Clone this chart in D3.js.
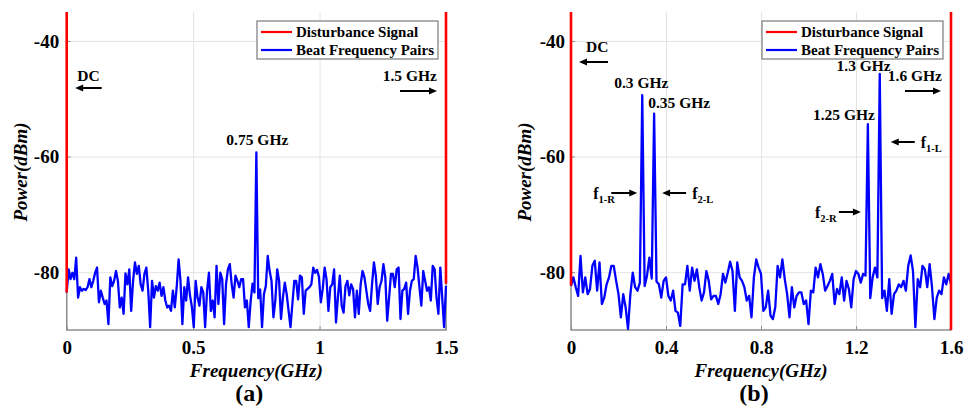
<!DOCTYPE html>
<html>
<head>
<meta charset="utf-8">
<script src="https://cdn.jsdelivr.net/npm/d3@7"></script>
<style>
  body { margin: 0; background: #fff; }
  svg { display: block; }
  text { font-family: "Liberation Serif", "Times New Roman", serif; font-weight: bold; fill: #000; }
</style>
</head>
<body>
<svg id="chart" width="965" height="407"></svg>
<script>
// ---- (a) single beat tone: spectrum sampled every 0.0075 GHz from 0 to 1.5 GHz (dBm)
const stepA = 0.0075;
const beatA = [
  -83.5, -79.5, -81.2, -80.1, -81.2, -77.5, -84.4, -82.6, -83.2, -82.9,
  -83.1, -82.6, -81.2, -82.6, -81.5, -80.1, -79.2, -85.2, -83.2, -84.4,
  -85.5, -84.9, -89.0, -80.9, -82.4, -81.5, -79.8, -81.5, -86.1, -84.4,
  -87.2, -80.2, -82.1, -79.5, -86.7, -81.5, -78.3, -80.3, -78.9, -82.1,
  -83.2, -80.3, -79.2, -83.2, -89.5, -81.5, -84.4, -82.4, -83.2, -81.8,
  -84.1, -82.6, -84.9, -86.1, -85.8, -86.7, -83.2, -86.1, -82.6, -77.8,
  -81.5, -89.0, -82.6, -84.9, -80.9, -84.0, -86.0, -89.5, -81.5, -84.4,
  -85.8, -82.6, -83.5, -89.5, -83.2, -80.1, -86.7, -84.9, -87.8, -78.9,
  -85.5, -80.1, -81.2, -89.0, -82.1, -79.5, -78.6, -82.1, -84.4, -80.6,
  -81.5, -82.6, -81.2, -81.2, -86.1, -84.9, -89.5, -85.0, -82.0, -83.5,
  -59.3, -84.5, -83.0, -89.5, -83.8, -82.4, -77.2, -79.8, -81.5, -87.8,
  -84.9, -79.5, -81.5, -88.1, -84.4, -81.8, -83.8, -86.7, -89.5, -85.5,
  -81.5, -81.5, -84.7, -80.6, -80.9, -87.2, -83.2, -82.9, -82.6, -82.1,
  -79.2, -80.1, -79.6, -80.8, -85.2, -82.9, -79.2, -81.2, -86.7, -82.6,
  -82.1, -79.5, -88.7, -84.4, -80.6, -85.8, -87.0, -82.4, -81.5, -84.0,
  -82.1, -82.9, -87.8, -83.2, -87.2, -82.1, -79.8, -80.9, -83.2, -85.5,
  -86.7, -82.1, -78.3, -80.6, -85.5, -82.6, -81.5, -78.6, -80.9, -88.4,
  -84.4, -80.3, -80.3, -82.6, -79.5, -79.2, -88.1, -83.2, -82.9, -81.8,
  -87.2, -83.2, -81.5, -81.2, -77.2, -79.2, -82.6, -85.8, -79.8, -81.5,
  -83.2, -82.6, -84.9, -78.9, -79.5, -84.4, -87.2, -79.2, -84.4, -89.5,
  -82.4
];

// ---- (b) two beat pairs: spectrum sampled every 0.01 GHz from 0 to 1.6 GHz (dBm)
const stepB = 0.01;
const beatB = [
  -82.4, -80.9, -82.6, -84.1, -77.2, -83.5, -80.9, -83.8, -82.9, -78.9,
  -78.0, -83.2, -78.3, -85.5, -84.4, -82.1, -80.9, -78.9, -78.9, -81.5,
  -83.8, -87.8, -83.8, -86.1, -89.8, -83.8, -80.1, -82.6, -83.2, -81.8,
  -49.4, -82.4, -80.6, -77.5, -81.1, -52.6, -81.6, -82.1, -84.4, -81.5,
  -80.9, -84.1, -84.9, -83.2, -86.7, -87.0, -89.3, -82.1, -82.1, -78.9,
  -83.2, -79.2, -81.5, -79.5, -82.6, -84.9, -83.5, -79.8, -81.5, -84.7,
  -84.1, -84.1, -85.5, -83.8, -80.3, -81.8, -80.1, -78.2, -79.8, -86.7,
  -78.3, -80.9, -81.5, -82.6, -84.9, -84.1, -87.8, -80.9, -77.8, -79.2,
  -80.3, -86.7, -86.1, -83.2, -87.5, -88.1, -86.1, -78.9, -80.9, -77.8,
  -81.2, -83.8, -87.8, -82.6, -86.1, -84.1, -83.5, -83.5, -85.5, -84.9,
  -89.0, -83.2, -83.5, -79.2, -80.9, -78.6, -80.3, -83.2, -82.4, -81.5,
  -80.3, -85.5, -82.9, -83.8, -80.9, -84.9, -81.5, -82.9, -86.1, -81.2,
  -79.8, -80.3, -81.8, -80.3, -80.6, -54.4, -84.5, -80.9, -79.2, -80.9,
  -45.7, -84.5, -83.2, -86.7, -81.2, -87.2, -83.8, -83.2, -82.1, -82.6,
  -81.5, -83.2, -78.9, -77.1, -79.8, -89.5, -81.2, -82.6, -78.9, -79.5,
  -82.6, -78.6, -82.6, -88.1, -84.4, -83.2, -83.8, -80.9, -82.1, -80.3,
  -82.1
];

// ---- disturbance (carrier) lines: frequency, floor level and carrier level (dBm)
const disturbFreqA = [0, 1.5];
const disturbFloorA = [-83.5, -82.0];
const disturbFreqB = [0, 1.6];
const disturbFloorB = [-82.3, -90.0];
const disturbLevel = -10;

// ---- labelled beat peaks (GHz)
const peaksA = [0.75];
const peaksB = [0.3, 0.35, 1.25, 1.3];

// ---- axes
const yDomain = [-90, -35];
const yTicks = [-80, -60, -40];
const yTickLabels = ["-80", "-60", "-40"];
const xDomainA = [0, 1.5];
const xTicksA = [0, 0.5, 1, 1.5];
const xTickLabelsA = ["0", "0.5", "1", "1.5"];
const xDomainB = [0, 1.6];
const xTicksB = [0, 0.4, 0.8, 1.2, 1.6];
const xTickLabelsB = ["0", "0.4", "0.8", "1.2", "1.6"];
const legendLabels = ["Disturbance Signal", "Beat Frequency Pairs"];
const seriesColors = ["#ff0000", "#0000ff"];

const svg = d3.select("#chart");

function arrow(g, x1, x2, yy) {
  // shaft from x1 to the head, filled triangular head with its tip at x2
  const dir = Math.sign(x2 - x1);
  const headLen = 8, headHalf = 3.6;
  g.append("line")
    .attr("x1", x1).attr("x2", x2 - dir * (headLen - 1))
    .attr("y1", yy).attr("y2", yy)
    .attr("stroke", "#000").attr("stroke-width", 2);
  g.append("path")
    .attr("d", `M${x2},${yy} L${x2 - dir * headLen},${yy - headHalf} L${x2 - dir * headLen},${yy + headHalf} Z`)
    .attr("fill", "#000");
}

function subLabel(g, xx, yy, main, sub) {
  const t = g.append("text").attr("x", xx).attr("y", yy).attr("font-size", 16);
  t.append("tspan").text(main);
  t.append("tspan").attr("font-size", 10.5).attr("dy", 4).text(sub);
}

function drawPanel(cfg) {
  const w = cfg.right - cfg.left, h = cfg.bottom - cfg.top;
  const g = svg.append("g").attr("transform", `translate(${cfg.left},${cfg.top})`);
  const x = d3.scaleLinear().domain(cfg.xDomain).range([0, w]);
  const y = d3.scaleLinear().domain(yDomain).range([h, 0]);

  // grid
  const gx = g.append("g").attr("transform", `translate(0,${h})`)
    .call(d3.axisBottom(x).tickValues(cfg.xTicks).tickSize(-h).tickFormat(""));
  const gy = g.append("g")
    .call(d3.axisLeft(y).tickValues(yTicks).tickSize(-w).tickFormat(""));
  [gx, gy].forEach(a => {
    a.select(".domain").remove();
    a.selectAll("line").attr("stroke", "#e4e4e4").attr("stroke-width", 1);
  });

  // axis frame
  g.append("path")
    .attr("d", `M0,0 V${h} H${w} V0`)
    .attr("fill", "none").attr("stroke", "#8f8f8f").attr("stroke-width", 1.5);

  // tick labels
  const ax = g.append("g").attr("transform", `translate(0,${h})`)
    .call(d3.axisBottom(x).tickValues(cfg.xTicks).tickSizeInner(-4).tickSizeOuter(0)
      .tickPadding(11).tickFormat((d, i) => cfg.xTickLabels[i]));
  const ay = g.append("g")
    .call(d3.axisLeft(y).tickValues(yTicks).tickSizeInner(-4).tickSizeOuter(0)
      .tickPadding(cfg.yPad).tickFormat((d, i) => yTickLabels[i]));
  [ax, ay].forEach(a => {
    a.select(".domain").remove();
    a.selectAll("line").attr("stroke", "#8f8f8f");
    a.selectAll("text").attr("font-size", 19).attr("font-family", null).attr("fill", "#111");
  });

  // clipped data area
  const clipId = "clip-" + cfg.id;
  g.append("clipPath").attr("id", clipId)
    .append("rect").attr("x", -3).attr("y", 0).attr("width", w + 6).attr("height", h);
  const plot = g.append("g").attr("clip-path", `url(#${clipId})`);

  const line = d3.line().x((d, i) => x(i * cfg.step)).y(d => y(d));
  plot.append("path").datum(cfg.beat)
    .attr("d", line)
    .attr("fill", "none").attr("stroke", seriesColors[1])
    .attr("stroke-width", 2.3).attr("stroke-linejoin", "round");

  cfg.disturbFreq.forEach((f, i) => {
    plot.append("line")
      .attr("x1", x(f)).attr("x2", x(f))
      .attr("y1", y(cfg.disturbFloor[i])).attr("y2", y(disturbLevel))
      .attr("stroke", seriesColors[0]).attr("stroke-width", 2.6);
  });

  // legend
  const lw = 181, lh = 38;
  const lg = g.append("g").attr("transform", `translate(${w - 8 - lw},9)`);
  lg.append("rect").attr("width", lw).attr("height", lh)
    .attr("fill", "#fff").attr("stroke", "#7a7a7a").attr("stroke-width", 1.2);
  legendLabels.forEach((lab, i) => {
    const ly = 11 + i * 18;
    lg.append("line").attr("x1", 4).attr("x2", 35).attr("y1", ly).attr("y2", ly)
      .attr("stroke", seriesColors[i]).attr("stroke-width", 2.2);
    lg.append("text").attr("x", 39).attr("y", ly + 5).attr("font-size", 15).text(lab);
  });

  // axis titles and panel tag
  g.append("text").attr("x", w / 2).attr("y", 377 - cfg.top)
    .attr("text-anchor", "middle").attr("font-size", 19).attr("font-style", "italic")
    .text("Frequency(GHz)");
  g.append("text")
    .attr("transform", `translate(${cfg.yTitleX - cfg.left},${h / 2 + 1}) rotate(-90)`)
    .attr("text-anchor", "middle").attr("font-size", 19).attr("font-style", "italic")
    .text("Power(dBm)");
  g.append("text").attr("x", w / 2 + cfg.tagShift).attr("y", 401 - cfg.top)
    .attr("text-anchor", "middle").attr("font-size", 24).text(cfg.tag);

  cfg.annotate(g, x, y, w, h);
}

function peakY(beat, step, f, y) {
  return y(beat[Math.round(f / step)]);
}

drawPanel({
  id: "a", left: 66.7, right: 446, top: 12, bottom: 330,
  xDomain: xDomainA, xTicks: xTicksA, xTickLabels: xTickLabelsA,
  step: stepA, beat: beatA,
  disturbFreq: disturbFreqA, disturbFloor: disturbFloorA,
  yPad: 7.5, yTitleX: 27, tag: "(a)", tagShift: -7,
  annotate(g, x, y, w) {
    g.append("text").attr("x", 10.5).attr("y", 69).attr("font-size", 15.5).text("DC");
    arrow(g, 35, 8.5, 76);
    g.append("text").attr("x", w - 9).attr("y", 69).attr("text-anchor", "end")
      .attr("font-size", 15.5).text(`${xDomainA[1]} GHz`);
    arrow(g, w - 46, w - 9, 79);
    peaksA.forEach(f => {
      g.append("text").attr("x", x(f) + 1).attr("y", peakY(beatA, stepA, f, y) - 7)
        .attr("text-anchor", "middle").attr("font-size", 15.5).text(`${f} GHz`);
    });
  }
});

drawPanel({
  id: "b", left: 571, right: 951, top: 12, bottom: 330,
  xDomain: xDomainB, xTicks: xTicksB, xTickLabels: xTickLabelsB,
  step: stepB, beat: beatB,
  disturbFreq: disturbFreqB, disturbFloor: disturbFloorB,
  yPad: 6, yTitleX: 531, tag: "(b)", tagShift: -7,
  annotate(g, x, y, w) {
    g.append("text").attr("x", 15).attr("y", 40).attr("font-size", 15.5).text("DC");
    arrow(g, 37, 8, 50);
    g.append("text").attr("x", w - 9).attr("y", 69).attr("text-anchor", "end")
      .attr("font-size", 15.5).text(`${xDomainB[1]} GHz`);
    arrow(g, w - 46, w - 10, 79);

    const py = f => peakY(beatB, stepB, f, y);
    const [f1R, f2L, f2R, f1L] = peaksB;
    g.append("text").attr("x", x(f1R) - 1).attr("y", py(f1R) - 7)
      .attr("text-anchor", "middle").attr("font-size", 15.5).text(`${f1R} GHz`);
    g.append("text").attr("x", x(f2L) - 6).attr("y", py(f2L) - 6)
      .attr("font-size", 15.5).text(`${f2L} GHz`);
    g.append("text").attr("x", x(f2R) + 7).attr("y", py(f2R) - 4)
      .attr("text-anchor", "end").attr("font-size", 15.5).text(`${f2R} GHz`);
    g.append("text").attr("x", x(f1L) + 11).attr("y", py(f1L) - 3)
      .attr("text-anchor", "end").attr("font-size", 15.5).text(`${f1L} GHz`);

    // beat-pair markers
    subLabel(g, x(f1R) - 49, 187, "f", "1-R");
    arrow(g, x(f1R) - 31, x(f1R) - 5, 181);
    arrow(g, x(f2L) + 32, x(f2L) + 8, 181);
    subLabel(g, x(f2L) + 38, 187, "f", "2-L");
    subLabel(g, x(f2R) - 53, 206, "f", "2-R");
    arrow(g, x(f2R) - 29, x(f2R) - 7, 200);
    arrow(g, x(f1L) + 35, x(f1L) + 11, 130);
    subLabel(g, x(f1L) + 41, 136, "f", "1-L");
  }
});
</script>
</body>
</html>
